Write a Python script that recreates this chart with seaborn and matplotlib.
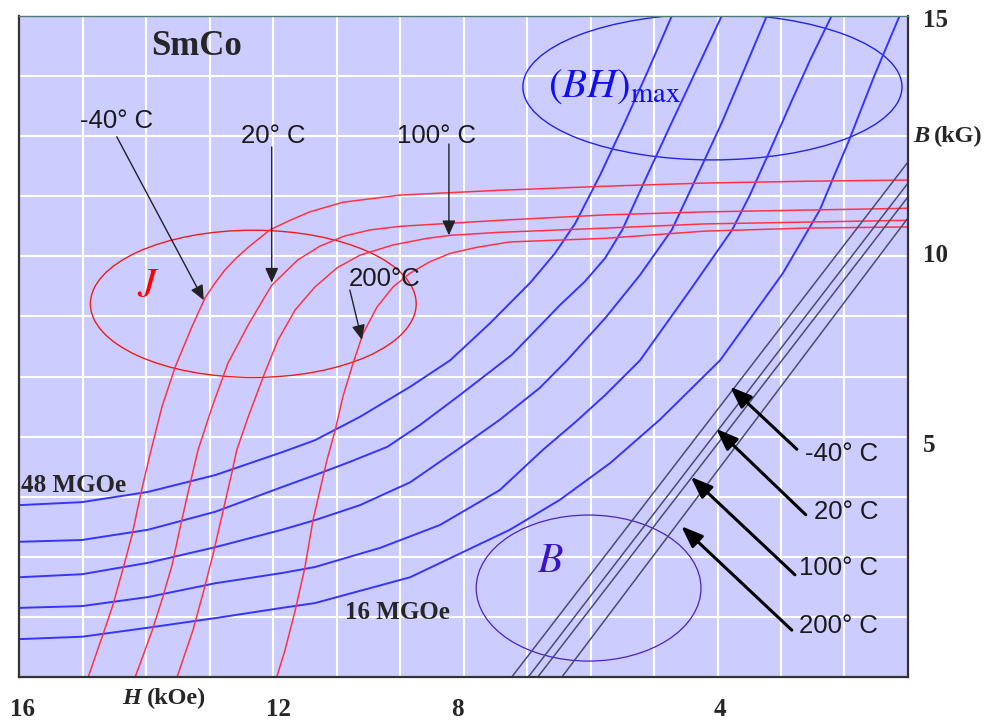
import pandas as pd
import seaborn as sns
import matplotlib
matplotlib.use("Agg")
import matplotlib.pyplot as plt
from matplotlib.patches import Ellipse

# Axes are in grid units: H runs 14 -> 0 (left to right), B runs 0 -> 11.

# intrinsic J curves (red), one per temperature
J_M40_H = [12.91, 12.68, 12.52, 12.36, 12.22, 12.08, 11.94, 11.75, 11.54, 11.28, 11.07,
           10.91, 10.76, 10.58, 10.39, 10.05, 9.73, 9.42, 8.90, 8.00, 6.43, 4.69, 3.20,
           1.62, 0.0]
J_M40_B = [0.0, 0.70, 1.20, 1.81, 2.36, 3.06, 3.69, 4.49, 5.16, 5.82, 6.31,
           6.56, 6.77, 6.97, 7.15, 7.44, 7.60, 7.74, 7.90, 8.02, 8.10, 8.17, 8.22,
           8.25, 8.27]
J_20_H = [12.17, 11.91, 11.75, 11.59, 11.46, 11.34, 11.18, 10.96, 10.71, 10.39,
          10.02, 9.61, 9.26, 8.87, 8.47, 8.00, 6.43, 4.77, 3.20, 1.62, 0.0]
J_20_B = [0.0, 0.75, 1.28, 1.86, 2.50, 3.06, 3.78, 4.49, 5.22, 5.86,
          6.52, 6.94, 7.17, 7.34, 7.44, 7.50, 7.60, 7.69, 7.74, 7.77, 7.80]
J_100_H = [11.51, 11.26, 11.10, 10.94, 10.80, 10.65, 10.57, 10.39, 10.13, 9.92, 9.65,
           9.34, 8.99, 8.63, 8.11, 7.57, 7.21, 6.43, 4.77, 3.20, 1.62, 0.0]
J_100_B = [0.0, 0.78, 1.40, 2.06, 2.70, 3.39, 3.78, 4.33, 5.06, 5.61, 6.11,
           6.49, 6.81, 7.02, 7.19, 7.30, 7.35, 7.40, 7.47, 7.54, 7.57, 7.60]
J_200_H = [9.94, 9.81, 9.65, 9.50, 9.37, 9.15, 9.02, 8.90, 8.74, 8.58, 8.36,
           8.11, 7.84, 7.53, 7.21, 6.79, 6.27, 4.77, 3.20, 1.62, 0.0]
J_200_B = [0.0, 0.45, 1.11, 1.81, 2.61, 3.61, 4.11, 4.66, 5.22, 5.72, 6.16,
           6.49, 6.72, 6.91, 7.05, 7.15, 7.24, 7.30, 7.42, 7.47, 7.49]

# constant (BH)max curves (blue), 48 MGOe down to 16 MGOe
BH_48_H = [14.0, 13.01, 11.97, 10.91, 9.86, 9.34, 8.63, 7.84, 7.21, 6.58, 5.95,
           5.56, 5.24, 4.85, 4.46, 4.09, 3.72]
BH_48_B = [2.86, 2.91, 3.08, 3.36, 3.74, 3.94, 4.33, 4.83, 5.27, 5.89, 6.56,
           7.05, 7.55, 8.35, 9.23, 10.10, 11.0]
BH_40_H = [14.0, 13.01, 11.97, 10.91, 9.86, 9.34, 8.79, 8.20, 7.69, 7.06, 6.24,
           5.48, 5.09, 4.77, 4.50, 4.11, 3.72, 3.32, 2.93]
BH_40_B = [2.25, 2.28, 2.45, 2.75, 3.16, 3.36, 3.58, 3.83, 4.19, 4.69, 5.36,
           6.19, 6.58, 6.97, 7.44, 8.34, 9.23, 10.13, 11.01]
BH_32_H = [14.0, 13.01, 11.97, 10.91, 9.86, 9.34, 8.63, 7.84, 7.10, 6.43, 5.80,
           5.37, 4.77, 4.22, 3.72, 3.32, 2.93, 2.57, 2.22]
BH_32_B = [1.66, 1.71, 1.90, 2.16, 2.45, 2.61, 2.86, 3.24, 3.78, 4.28, 4.81,
           5.27, 5.97, 6.69, 7.44, 8.34, 9.23, 10.13, 11.01]
BH_24_H = [14.0, 13.01, 11.97, 10.91, 9.86, 9.34, 8.31, 7.37, 6.43, 5.75, 5.24,
           4.77, 4.22, 3.43, 2.77, 2.49, 2.17, 1.86, 1.54, 1.20]
BH_24_B = [1.15, 1.18, 1.33, 1.56, 1.73, 1.83, 2.15, 2.53, 3.11, 3.78, 4.24,
           4.69, 5.27, 6.44, 7.44, 8.02, 8.77, 9.52, 10.27, 11.01]
BH_16_H = [14.0, 13.01, 11.97, 10.91, 9.86, 9.34, 7.84, 6.27, 5.48, 4.69, 3.91,
           2.96, 1.97, 1.39, 0.94, 0.54, 0.13]
BH_16_B = [0.63, 0.67, 0.82, 0.98, 1.15, 1.23, 1.66, 2.45, 2.95, 3.56, 4.28,
           5.27, 6.72, 7.77, 8.90, 9.98, 11.01]

# normal B lines (dark), -40, 20, 100, 200 deg C
B_M40_H = [6.24, 0.0]
B_M40_B = [0.0, 8.57]
B_20_H = [5.98, 0.0]
B_20_B = [0.0, 8.22]
B_100_H = [5.83, 0.0]
B_100_B = [0.0, 7.99]
B_200_H = [5.45, 0.0]
B_200_B = [0.0, 7.64]

X_TICK_POS = [13.95, 9.92, 7.10, 2.96]
X_TICK_LABELS = ["16", "12", "8", "4"]
Y_TICK_POS = [10.97, 7.05, 3.89]
Y_TICK_LABELS = ["15", "10", "5"]


def build_frame(curves):
    parts = []
    for name, h, b in curves:
        parts.append(pd.DataFrame({"curve": name, "H": h, "B": b}))
    return pd.concat(parts, ignore_index=True)


def draw_curves(ax):
    j_df = build_frame([("-40", J_M40_H, J_M40_B), ("20", J_20_H, J_20_B),
                        ("100", J_100_H, J_100_B), ("200", J_200_H, J_200_B)])
    bh_df = build_frame([("48", BH_48_H, BH_48_B), ("40", BH_40_H, BH_40_B),
                         ("32", BH_32_H, BH_32_B), ("24", BH_24_H, BH_24_B),
                         ("16", BH_16_H, BH_16_B)])
    b_df = build_frame([("-40", B_M40_H, B_M40_B), ("20", B_20_H, B_20_B),
                        ("100", B_100_H, B_100_B), ("200", B_200_H, B_200_B)])

    sns.lineplot(data=bh_df, x="H", y="B", units="curve", estimator=None, sort=False,
                 color="#3535ff", linewidth=1.4, ax=ax, legend=False)
    sns.lineplot(data=j_df, x="H", y="B", units="curve", estimator=None, sort=False,
                 color="#ff3345", linewidth=1.1, ax=ax, legend=False)
    sns.lineplot(data=b_df, x="H", y="B", units="curve", estimator=None, sort=False,
                 color="#4b4b72", linewidth=1.1, ax=ax, legend=False)


def draw_notes(ax):
    sans = ["Liberation Sans", "DejaVu Sans"]
    serif = ["Liberation Serif", "DejaVu Serif"]

    # ellipses around the three curve families
    ax.add_patch(Ellipse((10.31, 6.21), 5.13, 2.45, fill=False, ec="#ee1c1c", lw=1.0))
    ax.add_patch(Ellipse((3.08, 9.82), 5.97, 2.43, fill=False, ec="#2424e6", lw=1.0))
    ax.add_patch(Ellipse((5.03, 1.48), 3.54, 2.43, fill=False, ec="#4a22c4", lw=0.9))

    ax.text(12.14, 6.32, r"$J$", color="red", fontsize=30, math_fontfamily="stix",
            ha="left", va="baseline")
    ax.text(5.67, 9.65, r"$(BH)_{\rm max}$", color="#1010ee", fontsize=29.5,
            math_fontfamily="stix", ha="left", va="baseline")
    ax.text(5.84, 1.75, r"$B$", color="#3a14c4", fontsize=30, math_fontfamily="stix",
            ha="left", va="baseline")

    ax.text(11.20, 10.5, "SmCo", family=serif, fontweight="bold", fontsize=25,
            ha="center", va="center")
    ax.text(13.97, 3.19, "48 MGOe", family=serif, fontweight="bold", fontsize=18,
            ha="left", va="center")
    ax.text(8.87, 1.08, "16 MGOe", family=serif, fontweight="bold", fontsize=18,
            ha="left", va="center")

    # temperature labels for J curves, thin arrows
    top_labels = [("-40° C", 12.47, 9.25, (12.46, 8.99), (11.09, 6.27)),
                  ("20° C", 10.0, 9.0, (10.02, 8.82), (10.02, 6.56)),
                  ("100° C", 7.42, 9.0, (7.23, 8.87), (7.23, 7.35)),
                  ("200°C", 8.24, 6.62, (8.79, 6.44), (8.60, 5.61))]
    for text, tx, ty, start, tip in top_labels:
        ax.text(tx, ty, text, family=sans, fontsize=18.5, color="#1a1a1a",
                ha="center", va="center")
        ax.annotate("", xy=tip, xytext=start,
                    arrowprops=dict(arrowstyle="-|>,head_length=0.9,head_width=0.4",
                                    mutation_scale=10, color="#222222", lw=1.0,
                                    shrinkA=0, shrinkB=0))

    # temperature labels for B lines, heavy arrows
    low_labels = [("-40° C", 3.71, (1.75, 3.79), (2.80, 4.83)),
                  ("20° C", 2.75, (1.61, 2.70), (3.02, 4.13)),
                  ("100° C", 1.81, (1.78, 1.70), (3.42, 3.33)),
                  ("200° C", 0.85, (1.83, 0.78), (3.57, 2.51))]
    for text, ty, start, tip in low_labels:
        ax.text(0.47, ty, text, family=sans, fontsize=18.5, color="#1a1a1a",
                ha="right", va="center")
        ax.annotate("", xy=tip, xytext=start,
                    arrowprops=dict(arrowstyle="-|>,head_length=1.3,head_width=0.5",
                                    mutation_scale=10, color="black", lw=2.2,
                                    shrinkA=0, shrinkB=0))

    # axis titles, italic symbol plus bold unit
    ax.text(12.38, -0.35, "H", family=serif, fontstyle="italic", fontweight="bold",
            fontsize=17.5, ha="left", va="center", clip_on=False)
    ax.text(11.98, -0.35, "(kOe)", family=serif, fontweight="bold", fontsize=17.5,
            ha="left", va="center", clip_on=False)
    ax.text(-0.08, 9.0, "B", family=serif, fontstyle="italic", fontweight="bold",
            fontsize=17.5, ha="left", va="center", clip_on=False)
    ax.text(-0.41, 9.0, "(kG)", family=serif, fontweight="bold", fontsize=17.5,
            ha="left", va="center", clip_on=False)


def style_axes(ax):
    ax.set_xlim(14, 0)
    ax.set_ylim(0, 11)
    ax.set_xlabel("")
    ax.set_ylabel("")
    ax.set_xticks(range(0, 15))
    ax.set_yticks(range(0, 12))
    ax.yaxis.tick_right()
    ax.tick_params(which="major", length=0, labelbottom=False, labelright=False,
                   labelleft=False)
    ax.set_xticks(X_TICK_POS, X_TICK_LABELS, minor=True)
    ax.set_yticks(Y_TICK_POS, Y_TICK_LABELS, minor=True)
    ax.tick_params(axis="x", which="minor", length=0, pad=15, labelsize=18)
    ax.tick_params(axis="y", which="minor", length=0, pad=11, labelsize=18,
                   labelright=True, labelleft=False)
    for lab in ax.get_xticklabels(minor=True) + ax.get_yticklabels(minor=True):
        lab.set_fontfamily(["Liberation Serif", "DejaVu Serif"])
        lab.set_fontweight("bold")
    ax.grid(True, which="major", color="white", linewidth=1.5)
    ax.grid(False, which="minor")
    for side in ["left", "bottom", "right"]:
        ax.spines[side].set_visible(True)
        ax.spines[side].set_color("#333333")
        ax.spines[side].set_linewidth(1.6)
    ax.spines["top"].set_visible(True)
    ax.spines["top"].set_color("#4f7a7a")
    ax.spines["top"].set_linewidth(1.0)


def main():
    sns.set_style("darkgrid", {"axes.facecolor": "#ccccff", "grid.color": "white"})
    plt.rcParams["font.family"] = ["Liberation Serif", "DejaVu Sans"]

    fig = plt.figure(figsize=(9.87, 7.2), dpi=100)
    fig.patch.set_facecolor("white")
    ax = fig.add_axes([19 / 987, 43 / 720, 889 / 987, 661 / 720])

    draw_curves(ax)
    style_axes(ax)
    draw_notes(ax)

    fig.savefig("out.png", dpi=100, facecolor="white")


if __name__ == "__main__":
    main()
